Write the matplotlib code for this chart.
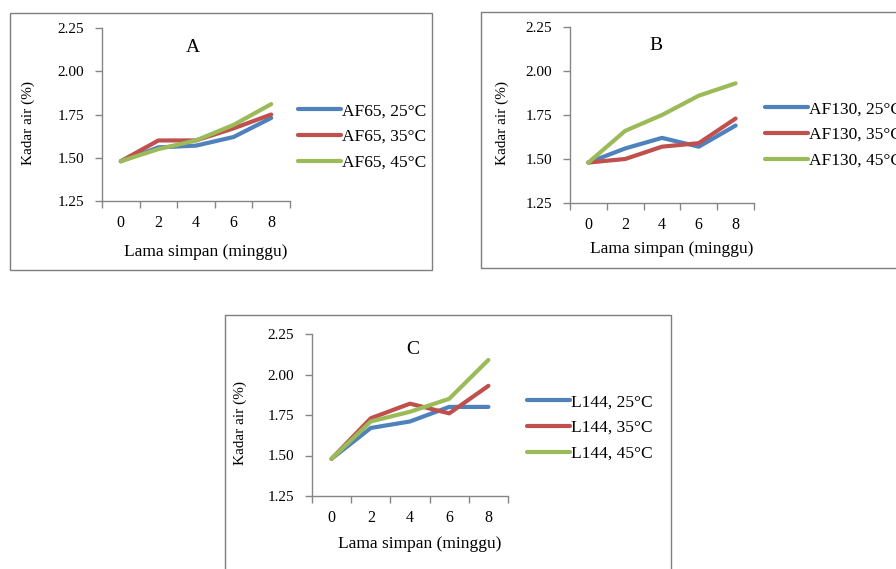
import numpy as np
import matplotlib
matplotlib.use("Agg")
import matplotlib.pyplot as plt
from matplotlib.patches import Rectangle

# ==============================================================================
# DATA
# ==============================================================================

weeks = ["0", "2", "4", "6", "8"]
temps = ["25°C", "35°C", "45°C"]

af65_25 = [1.48, 1.56, 1.57, 1.62, 1.73]
af65_35 = [1.48, 1.60, 1.60, 1.67, 1.75]
af65_45 = [1.48, 1.55, 1.60, 1.69, 1.81]

af130_25 = [1.48, 1.56, 1.62, 1.57, 1.69]
af130_35 = [1.48, 1.50, 1.57, 1.59, 1.73]
af130_45 = [1.48, 1.66, 1.75, 1.86, 1.93]

l144_25 = [1.48, 1.67, 1.71, 1.80, 1.80]
l144_35 = [1.48, 1.73, 1.82, 1.76, 1.93]
l144_45 = [1.48, 1.71, 1.77, 1.85, 2.09]

y_ticks = [1.25, 1.50, 1.75, 2.00, 2.25]

# ==============================================================================
# STYLE
# ==============================================================================

plt.rcParams["font.family"] = ["Liberation Serif", "DejaVu Serif"]
COLORS = ["#4F81BD", "#C0504D", "#9BBB59"]
AXIS_GRAY = "#868686"
W, H = 896, 569

fig = plt.figure(figsize=(W / 100, H / 100), dpi=100)


def fx(x):
    return x / W


def fy(y):
    return 1 - y / H


def panel(box, axrect, series, prefix, title, title_xy, ylab_x, xlab_y, leg_x, leg_y):
    # outer frame
    bx0, by0, bx1, by1 = box
    fig.patches.append(Rectangle((fx(bx0), fy(by1)), fx(bx1 - bx0), (by1 - by0) / H,
                                 transform=fig.transFigure, fill=False,
                                 edgecolor="#7f7f7f", linewidth=1.0))
    l, r, t, b = axrect
    ax = fig.add_axes([fx(l), fy(b), fx(r - l), (b - t) / H])
    xs = np.arange(len(weeks))
    for vals, c, tp in zip(series, COLORS, temps):
        ax.plot(xs, vals, color=c, linewidth=3.0, label=f"{prefix}, {tp}",
                solid_capstyle="round", solid_joinstyle="round", clip_on=False)
    ax.set_xlim(-0.5, len(weeks) - 0.5)
    ax.set_ylim(1.25, 2.25)
    ax.set_yticks(y_ticks)
    ax.set_yticklabels([f"{v:.2f}" for v in y_ticks])
    ax.set_xticks(np.arange(-0.5, len(weeks)))
    ax.set_xticklabels([])
    ax.set_xticks(xs, minor=True)
    ax.set_xticklabels(weeks, minor=True)
    ax.tick_params(axis="x", which="major", direction="out", length=5,
                   color=AXIS_GRAY, width=1)
    ax.tick_params(axis="x", which="minor", length=0, pad=10, labelsize=11.5)
    ax.tick_params(axis="y", direction="out", length=5, color=AXIS_GRAY,
                   width=1, labelsize=11, pad=8)
    for s in ["top", "right"]:
        ax.spines[s].set_visible(False)
    for s in ["left", "bottom"]:
        ax.spines[s].set_color(AXIS_GRAY)
        ax.spines[s].set_linewidth(1)
    ax.patch.set_alpha(0)

    fig.text(fx(title_xy[0]), fy(title_xy[1]), title, fontsize=14,
             ha="center", va="center")
    fig.text(fx(ylab_x), fy((t + b) / 2 + 8), "Kadar air (%)", rotation=90,
             fontsize=11, ha="center", va="center")
    fig.text(fx((l + r) / 2 + 10), fy(xlab_y), "Lama simpan (minggu)",
             fontsize=12.5, ha="center", va="center")
    ax.legend(loc="center left", frameon=False, fontsize=12.5,
              bbox_to_anchor=(fx(leg_x), fy(leg_y)), bbox_transform=fig.transFigure,
              handlelength=2.45, handletextpad=0.1, labelspacing=0.56,
              borderaxespad=0, borderpad=0)
    return ax


panel((10, 13, 432, 270), (102, 290, 28, 201), [af65_25, af65_35, af65_45],
      "AF65", "A", (193, 47), 28, 252, 298, 137)
panel((481, 12, 905, 268), (570, 754, 27, 203), [af130_25, af130_35, af130_45],
      "AF130", "B", (656, 45), 502, 249, 765, 135)
panel((225, 315, 671, 580), (312, 508, 334, 496), [l144_25, l144_35, l144_45],
      "L144", "C", (413, 349), 240, 544, 527, 428)

fig.savefig("out.png", dpi=100)
